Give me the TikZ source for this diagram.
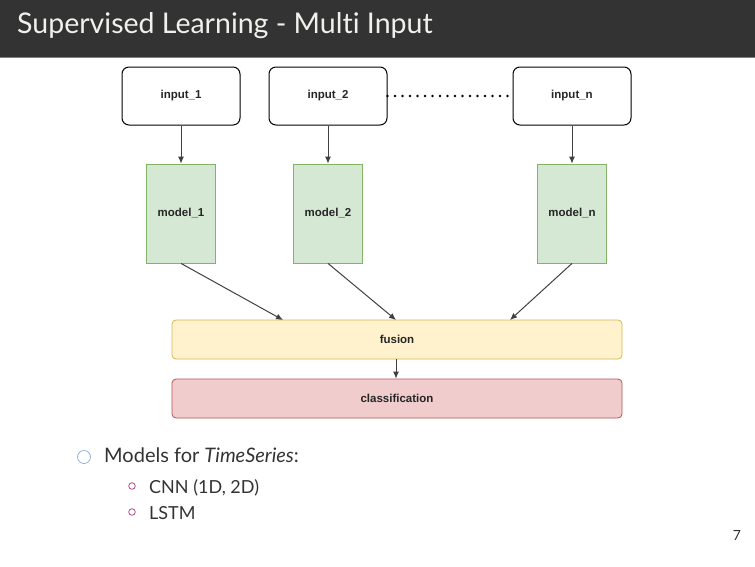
\documentclass[tikz,border=0pt]{standalone}
\usepackage{fontspec}
\usetikzlibrary{arrows.meta}
\setmainfont{Lato}[Ligatures=NoCommon]
\newfontfamily\boxfont{Liberation Sans}
\definecolor{titlebg}{HTML}{333333}
\definecolor{titlefg}{HTML}{F0F0EC}
\definecolor{bodytext}{HTML}{333333}
\definecolor{modelfill}{HTML}{D5E8D4}
\definecolor{modeldraw}{HTML}{82B366}
\definecolor{fusionfill}{HTML}{FFF2CC}
\definecolor{fusiondraw}{HTML}{D6B656}
\definecolor{classfill}{HTML}{F0CCCC}
\definecolor{classdraw}{HTML}{B85450}
\definecolor{bulletone}{HTML}{8EAADB}
\definecolor{bullettwo}{HTML}{B0307A}
\tikzset{
  boxlabel/.style={font=\boxfont\bfseries\fontsize{11.5}{13}\selectfont, text=black!85},
  inputbox/.style={boxlabel, draw=black, fill=white, rounded corners=7pt, line width=1pt,
    minimum width=118pt, minimum height=58pt, inner sep=0pt},
  modelbox/.style={boxlabel, draw=modeldraw, fill=modelfill, line width=0.8pt,
    minimum width=69pt, minimum height=99pt, inner sep=0pt},
  widebox/.style={boxlabel, rounded corners=4pt, line width=0.8pt,
    minimum width=450pt, minimum height=39pt, inner sep=0pt},
  flow/.style={-{Latex[length=7pt,width=6pt]}, line width=1pt, draw=black!75},
}
\begin{document}
\begin{tikzpicture}[x=1pt, y=-1pt]
  \useasboundingbox (0,0) rectangle (755,566);
  % title bar
  \fill[titlebg] (0,0) rectangle (755,57);
  \draw[gray, line width=1pt] (0,57.5) -- (755,57.5);
  \node[anchor=west, text=titlefg, font=\fontsize{28.5}{32}\selectfont, inner sep=0pt] (title) at (17,26) {Supervised Learning - Multi Input};
  % inputs and models
  \foreach \x/\n in {181/1,328/2,572/n}{
    \node[inputbox] (in\n) at (\x,96) {input\_\n};
    \node[modelbox] (model\n) at (\x,213.5) {model\_\n};
    \draw[flow] (in\n) -- (model\n);}
  \draw[line width=2.6pt, dash pattern=on 0pt off 7.5pt, line cap=round] (in2) -- (inn);
  % fusion and classification
  \node[widebox, draw=fusiondraw, fill=fusionfill] (fusion) at (397,339.5) {fusion};
  \node[widebox, draw=classdraw, fill=classfill] (class) at (397,398.5) {classification};
  \coordinate (f1) at (283,320);
  \coordinate (f2) at (396,320);
  \coordinate (fn) at (510,320);
  \foreach \n in {1,2,n}
    \draw[flow] (model\n.south) -- (f\n);
  \draw[flow] (fusion.south -| f2) -- (class.north -| f2);
  % bullets
  \draw[bulletone, line width=0.7pt] (84,457) circle [radius=6.5];
  \node[anchor=base west, text=bodytext, font=\fontsize{20}{24}\selectfont, inner sep=0pt] (models) at (104,462) {Models for \textit{TimeSeries}:};
  \foreach \y/\t in {493/{CNN (1D, 2D)},519/LSTM}{
    \draw[bullettwo, line width=0.7pt] (132,\y-7) circle [radius=3.3];
    \node[anchor=base west, text=bodytext, font=\fontsize{18}{22}\selectfont, inner sep=0pt] at (149,\y) {\t};}
  \node[text=bodytext, font=\fontsize{14}{16}\selectfont, inner sep=0pt] (page) at (737,535) {7};
\end{tikzpicture}
\end{document}
